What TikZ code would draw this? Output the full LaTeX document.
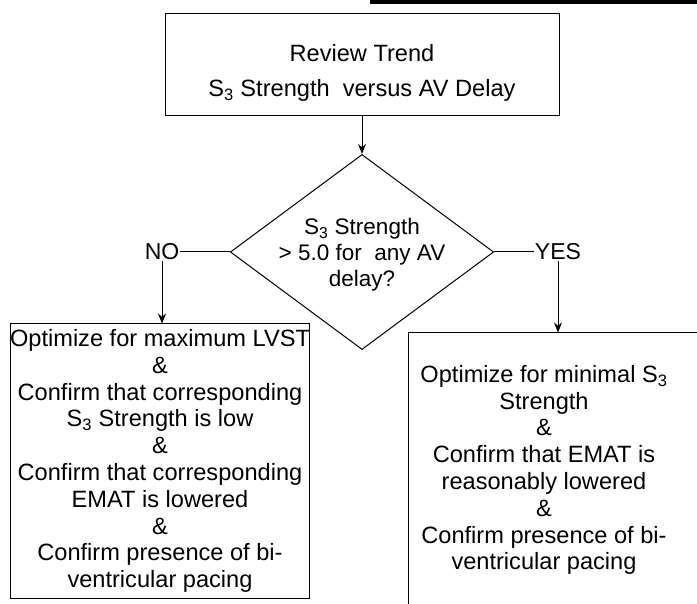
\documentclass[tikz,border=0pt]{standalone}
\usepackage{fontspec}
\setmainfont{Liberation Sans}
\usetikzlibrary{arrows.meta, positioning, shapes.geometric}

\begin{document}
\begin{tikzpicture}[
    x=1pt, y=-1pt,
    >={Stealth[length=10pt, width=8pt]},
    box/.style={draw, line width=1pt, align=center, inner sep=0pt, font=\fontsize{23.6}{26.8}\selectfont},
    lbl/.style={font=\fontsize{23}{26}\selectfont, inner sep=1pt},
    conn/.style={line width=1pt},
]
\useasboundingbox (0,0) rectangle (697,604);
% scan edge at the top
\fill (370,0) rectangle (697,4);
% === Top box ===
\node[box, minimum width=394pt, minimum height=102pt] (review) at (362,65) {};
\node[box, draw=none] (reviewtext) at (362,73)
    {Review Trend\\[9pt] S\textsubscript{3} Strength\ \ versus AV Delay};
% === Decision ===
\node[draw, diamond, line width=1pt, shape aspect=1.35, inner sep=-2pt, align=center,
      minimum width=250pt, minimum height=186pt, font=\fontsize{22.5}{26}\selectfont] (decide) at (362,252)
    {\\[-4pt]S\textsubscript{3} Strength\\ > 5.0 for\ \ any AV\\ delay?};
\node[lbl] (no) at (162,252) {NO};
\node[lbl] (yes) at (558,252) {YES};
% === Outcome boxes ===
\node[box, minimum width=294pt, minimum height=274pt] (nobox) at (160,461)
    {Optimize for maximum LVST\\ \&\\ Confirm that corresponding\\ S\textsubscript{3} Strength is low\\ \&\\
     Confirm that corresponding\\ EMAT is lowered\\ \&\\ Confirm presence of bi-\\ ventricular pacing};
% right box runs off the page: only its top and left sides show
\node[box, draw=none, minimum width=340pt, minimum height=290pt] (yesbox) at (579,478) {};
\draw[conn] (yesbox.north east) -- (yesbox.north west) -- (yesbox.south west);
\node[box, draw=none] (yestext) at (544,470)
    {Optimize for minimal S\textsubscript{3}\\ Strength\\ \&\\ Confirm that EMAT is\\ reasonably lowered\\ \&\\
     Confirm presence of bi-\\ ventricular pacing};
% === Connectors ===
\draw[conn, ->] (review.south) -- (decide.north);
\draw[conn] (decide.west) -- (no.east);
\draw[conn] (decide.east) -- (yes.west);
\draw[conn, ->] (no.south) -- (no.south |- nobox.north);
\draw[conn, ->] (yes.south) -- (yes.south |- yesbox.north);
\end{tikzpicture}
\end{document}
